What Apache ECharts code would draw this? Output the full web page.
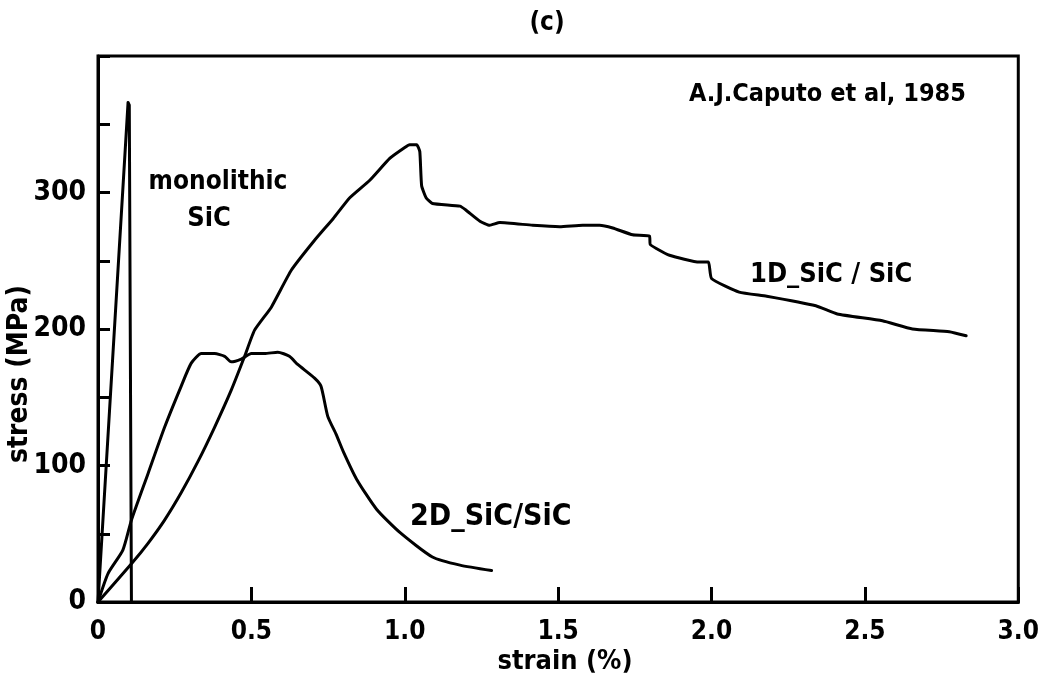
<!DOCTYPE html>
<html>
<head>
<meta charset="utf-8">
<script src="https://cdn.jsdelivr.net/npm/echarts@6/dist/echarts.min.js"></script>
<style>
	html, body { margin: 0; padding: 0; background: #fff; }
	#main { width: 1042px; height: 680px; }
</style>
</head>
<body>
<div id="main"></div>
<script>
// strain (%) / stress (MPa)
var monoStrain = [0, 0.098, 0.102, 0.109];
var monoStress = [0, 366, 364, 0];

var d2Strain = [0, 0.033, 0.081, 0.109, 0.163, 0.217, 0.271, 0.304, 0.337, 0.38, 0.413, 0.434, 0.467, 0.5, 0.543, 0.586, 0.624, 0.651, 0.706, 0.727, 0.749, 0.776, 0.80, 0.843, 0.908, 0.984, 1.09, 1.18, 1.283];
var d2Stress = [0, 21, 38, 60, 94, 128, 158, 175, 182, 182, 180, 176, 178, 182, 182, 183, 180, 174, 164, 158, 136, 123, 110, 90, 68, 51, 33, 27, 23];

var d1Strain = [0, 0.109, 0.163, 0.217, 0.271, 0.326, 0.38, 0.434, 0.478, 0.51, 0.565, 0.63, 0.706, 0.767, 0.82, 0.886, 0.951, 1.0, 1.016, 1.039, 1.049, 1.055, 1.07, 1.09, 1.18, 1.20, 1.245, 1.277, 1.31, 1.417, 1.505, 1.58, 1.635, 1.678, 1.743, 1.798, 1.80, 1.82, 1.863, 1.96, 1.99, 2.0, 2.09, 2.18, 2.34, 2.41, 2.557, 2.655, 2.775, 2.83];
var d1Stress = [0, 28, 43, 60, 80, 103, 128, 155, 180, 199, 216, 243, 265, 281, 296, 309, 325, 333, 335, 335, 330, 305, 296, 292, 290, 287, 279, 276, 278, 276, 275, 276, 276, 274, 269, 268, 262, 259, 254, 249, 249, 237, 227, 224, 217, 211, 206, 200, 198, 195];

var xTicks = ['0', '0.5', '1.0', '1.5', '2.0', '2.5', '3.0'];
var yTicks = ['0', '100', '200', '300'];

function pairs(xs, ys) {
	var out = [];
	for (var i = 0; i < xs.length; i++) {
		out.push([xs[i], ys[i]]);
	}
	return out;
}

var FONT = "'DejaVu Sans Condensed', 'DejaVu Sans', sans-serif";

var myChart = echarts.init(document.getElementById('main'));

function curve(name, xs, ys, smooth) {
	return {
		name: name,
		type: 'line',
		data: pairs(xs, ys),
		smooth: smooth,
		showSymbol: false,
		symbol: 'none',
		silent: true,
		lineStyle: { color: '#000', width: 3, join: 'round', cap: 'round' }
	};
}

var option = {
	backgroundColor: '#fff',
	animation: false,
	grid: {
		show: true,
		left: 98,
		right: 23,
		top: 56,
		bottom: 78,
		borderColor: '#000',
		borderWidth: 3,
		backgroundColor: 'transparent'
	},
	xAxis: {
		type: 'value',
		min: 0,
		max: 3,
		interval: 0.5,
		axisLine: { show: true, onZero: false, lineStyle: { color: '#000', width: 3 } },
		axisTick: { show: true, inside: true, length: 15, lineStyle: { color: '#000', width: 3 } },
		splitLine: { show: false },
		axisLabel: {
			margin: 17,
			color: '#000',
			fontFamily: FONT,
			fontWeight: 'bold',
			fontSize: 26,
			formatter: function(v) {
				return xTicks[Math.round(v / 0.5)];
			}
		}
	},
	yAxis: {
		type: 'value',
		min: 0,
		max: 400,
		interval: 50,
		axisLine: { show: true, onZero: false, lineStyle: { color: '#000', width: 3 } },
		axisTick: { show: true, inside: true, length: 12, lineStyle: { color: '#000', width: 3 } },
		splitLine: { show: false },
		axisLabel: {
			margin: 12,
			color: '#000',
			fontFamily: FONT,
			fontWeight: 'bold',
			fontSize: 28,
			formatter: function(v) {
				return v % 100 === 0 && v < 400 ? yTicks[v / 100] : '';
			}
		}
	},
	graphic: [
		{ type: 'text', x: 547, y: 23, style: { text: '(c)', font: 'bold 26px ' + FONT, fill: '#000', textAlign: 'center', textVerticalAlign: 'middle' } },
		{ type: 'text', x: 20, y: 374, rotation: Math.PI / 2, style: { text: 'stress (MPa)', font: 'bold 28px ' + FONT, fill: '#000', textAlign: 'center', textVerticalAlign: 'middle' } },
		{ type: 'text', x: 565, y: 662, style: { text: 'strain (%)', font: 'bold 27px ' + FONT, fill: '#000', textAlign: 'center', textVerticalAlign: 'middle' } },
		{ type: 'text', x: 218, y: 182, style: { text: 'monolithic', font: 'bold 26px ' + FONT, fill: '#000', textAlign: 'center', textVerticalAlign: 'middle' } },
		{ type: 'text', x: 209, y: 219, style: { text: 'SiC', font: 'bold 27px ' + FONT, fill: '#000', textAlign: 'center', textVerticalAlign: 'middle' } },
		{ type: 'text', x: 689, y: 94, style: { text: 'A.J.Caputo et al, 1985', font: 'bold 25px ' + FONT, fill: '#000', textAlign: 'left', textVerticalAlign: 'middle' } },
		{ type: 'text', x: 750, y: 275, style: { text: '1D_SiC / SiC', font: 'bold 27px ' + FONT, fill: '#000', textAlign: 'left', textVerticalAlign: 'middle' } },
		{ type: 'text', x: 410, y: 517, style: { text: '2D_SiC/SiC', font: 'bold 30px ' + FONT, fill: '#000', textAlign: 'left', textVerticalAlign: 'middle' } }
	],
	series: [
		curve('monolithic SiC', monoStrain, monoStress, false),
		curve('2D_SiC/SiC', d2Strain, d2Stress, 0.2),
		curve('1D_SiC/SiC', d1Strain, d1Stress, 0.15)
	]
};

myChart.setOption(option);
</script>
</body>
</html>
